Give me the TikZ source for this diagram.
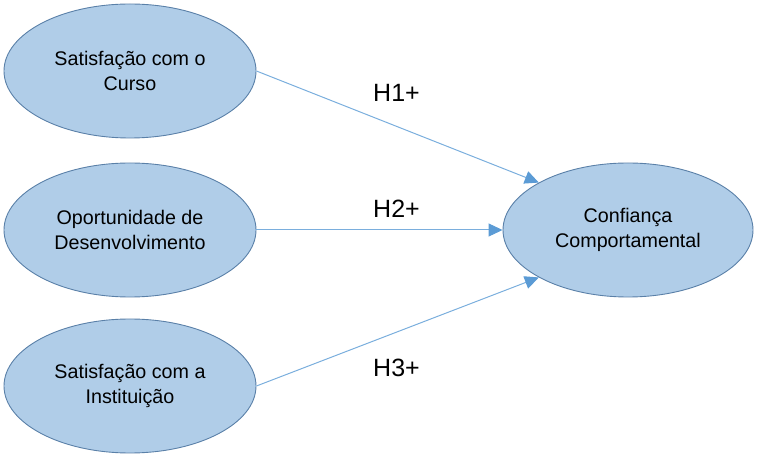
\documentclass[tikz,border=0pt]{standalone}
\usepackage{fontspec}
\setmainfont{Liberation Sans}
\usetikzlibrary{arrows.meta,shapes.geometric}
\definecolor{ellfill}{HTML}{B0CDE8}
\definecolor{elldraw}{HTML}{5A80A8}
\definecolor{linecol}{HTML}{7AAEDD}
\definecolor{tipcol}{HTML}{5B9BD5}
\tikzset{
  construct/.style={ellipse, draw=elldraw, fill=ellfill, line width=0.9pt,
    minimum width=252pt, minimum height=134pt, inner sep=0pt,
    align=center, font=\fontsize{19.7}{25}\selectfont},
  hyp/.style={anchor=base, font=\fontsize{25}{28}\selectfont, inner sep=0pt},
  path/.style={draw=linecol, line width=1pt,
    -{Triangle[length=14pt,width=13pt,fill=tipcol,color=tipcol]}}
}
\begin{document}
\begin{tikzpicture}[x=1pt,y=1pt]
\useasboundingbox (0,0) rectangle (758,458);
\node[construct] (a) at (130,387) {Satisfação com o\\Curso};
\node[construct] (b) at (130,228) {Oportunidade de\\Desenvolvimento};
\node[construct] (c) at (130,72) {Satisfação com a\\Instituição};
\node[construct, minimum width=250pt] (r) at (628,228) {Confiança\\Comportamental};
\draw[path] (a.east) -- (r.152);
\draw[path] (b.east) -- (r.west);
\draw[path] (c.east) -- (r.208);
\node[hyp] (h1) at (396.5,356) {H1+};
\node[hyp] (h2) at (396.5,240) {H2+};
\node[hyp] (h3) at (396.5,81) {H3+};
\end{tikzpicture}
\end{document}
